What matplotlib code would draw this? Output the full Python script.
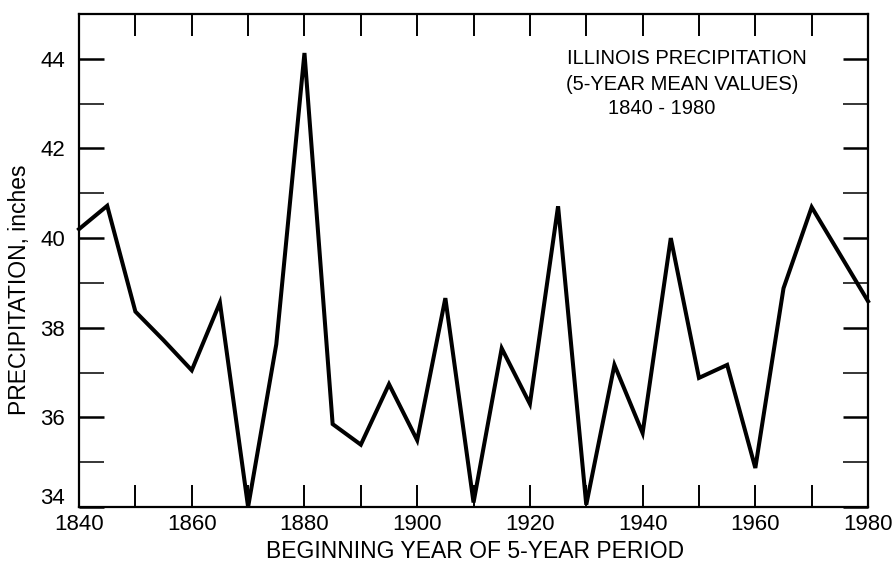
import matplotlib
matplotlib.use("Agg")
import matplotlib.pyplot as plt
from matplotlib.ticker import MultipleLocator, FuncFormatter

plt.rcParams["font.family"] = ["Liberation Sans", "DejaVu Sans"]

# 5-year mean precipitation, Illinois
years = [1840, 1845, 1850, 1855, 1860, 1865, 1870, 1875, 1880, 1885,
         1890, 1895, 1900, 1905, 1910, 1915, 1920, 1925, 1930, 1935,
         1940, 1945, 1950, 1955, 1960, 1965, 1970, 1975, 1980]
precip = [40.2, 40.72, 38.36, 37.72, 37.05, 38.56, 34.0, 37.63, 44.13, 35.85,
          35.39, 36.74, 35.49, 38.66, 34.1, 37.54, 36.3, 40.71, 34.05, 37.17,
          35.65, 40.0, 36.88, 37.17, 34.87, 38.88, 40.69, 39.64, 38.59]

title_lines = ["ILLINOIS PRECIPITATION", "(5-YEAR MEAN VALUES)", "1840 - 1980"]
y_min, y_max = 34, 45

fig = plt.figure(figsize=(8.96, 5.69), dpi=100)
ax = fig.add_axes([0.0882, 0.109, 0.8806, 0.8664])

ax.plot(years, precip, color="black", linewidth=2.9,
        solid_joinstyle="miter", clip_on=False, zorder=3)

ax.set_xlim(years[0], years[-1])
ax.set_ylim(y_min, y_max)
ax.xaxis.set_major_locator(MultipleLocator(20))
ax.xaxis.set_minor_locator(MultipleLocator(10))
ax.yaxis.set_major_locator(MultipleLocator(2))
ax.yaxis.set_minor_locator(MultipleLocator(1))
# bottom label is drawn by hand, lifted a little off the corner
ax.yaxis.set_major_formatter(
    FuncFormatter(lambda v, p: "" if v == y_min else f"{v:.0f}"))

ax.tick_params(axis="both", which="both", direction="in",
               top=True, right=True, colors="black")
ax.tick_params(axis="x", which="both", length=16, width=1.4)
ax.tick_params(axis="y", which="major", length=18, width=1.8)
ax.tick_params(axis="y", which="minor", length=18, width=1.1)
ax.tick_params(axis="x", which="major", labelsize=16, pad=5)
ax.tick_params(axis="y", which="major", labelsize=16, pad=10)

ax.annotate(f"{y_min}", xy=(0, y_min), xycoords=("axes fraction", "data"),
            xytext=(-10, 6), textcoords="offset points",
            ha="right", va="center", fontsize=16)

for sp in ax.spines.values():
    sp.set_linewidth(1.6)

# title block, one line at a time (centres)
for line, cx, cy in zip(title_lines, [687, 682, 662], [58, 84, 108]):
    fig.text(cx / 896, 1 - cy / 569, line, ha="center", va="center",
             fontsize=14.5)

fig.text(475 / 896, 1 - 551 / 569, "BEGINNING YEAR OF 5-YEAR PERIOD",
         ha="center", va="center", fontsize=16.5)
fig.text(20 / 896, 1 - 290 / 569, "PRECIPITATION, inches", rotation=90,
         ha="center", va="center", fontsize=16.5)

fig.savefig("out.png", dpi=100)
plt.close(fig)
